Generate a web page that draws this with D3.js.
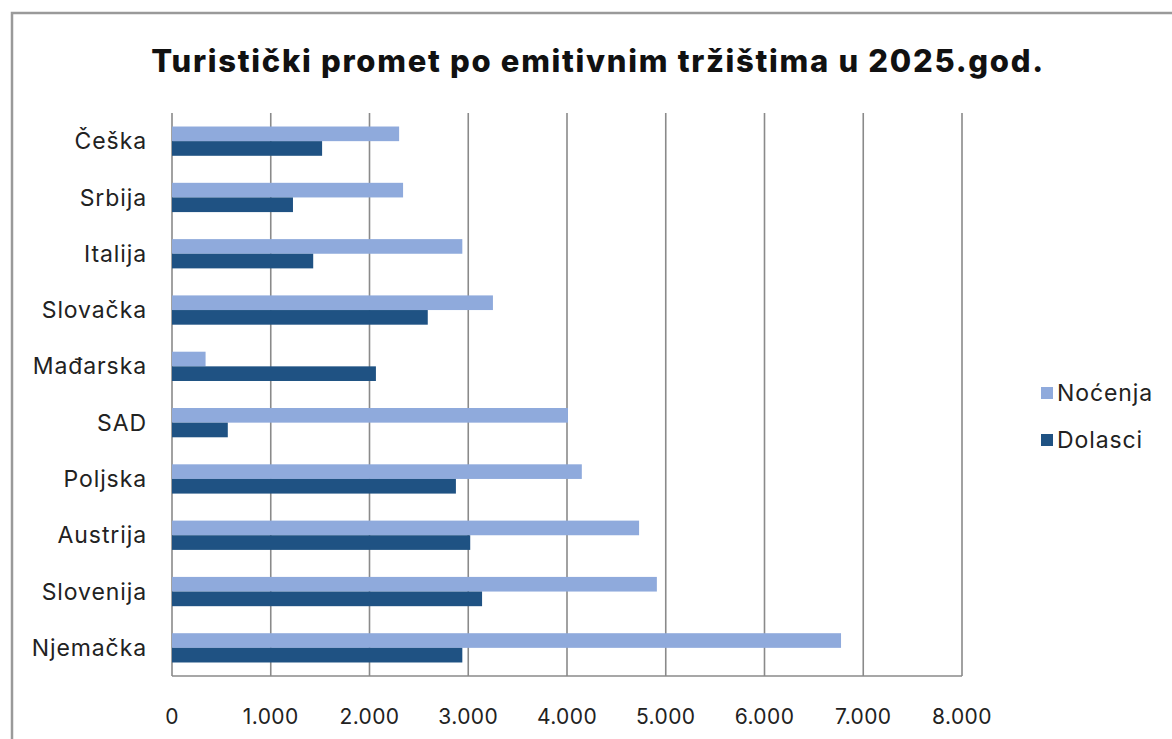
<!DOCTYPE html>
<html>
<head>
<meta charset="utf-8">
<script src="https://cdn.jsdelivr.net/npm/d3@7"></script>
<style>
  body { margin: 0; background: #fff; }
  text { font-family: Inter, "Open Sans", sans-serif; fill: #222; }
</style>
</head>
<body>
<div id="chart"></div>
<script>
// data
var countries = ["Češka", "Srbija", "Italija", "Slovačka", "Mađarska", "SAD", "Poljska", "Austrija", "Slovenija", "Njemačka"];
var nocenja = [2300, 2340, 2940, 3250, 340, 4010, 4150, 4730, 4910, 6775];
var dolasci = [1520, 1225, 1430, 2590, 2065, 565, 2875, 3020, 3140, 2940];
var seriesNames = ["Noćenja", "Dolasci"];
var seriesColors = ["#8faadc", "#1f5283"];
var ticks = [0, 1000, 2000, 3000, 4000, 5000, 6000, 7000, 8000];

var W = 1172, H = 739;
var margin = {top: 113, left: 172, right: 210, bottom: 63};
var width = 962 - margin.left,
    height = 676 - margin.top;

var svg = d3.select("#chart")
  .append("svg")
    .attr("width", W)
    .attr("height", H);

// outer frame of the chart area (scanned page)
svg.append("rect")
  .attr("x", 12).attr("y", 13)
  .attr("width", W + 20).attr("height", H + 20)
  .attr("fill", "none")
  .attr("stroke", "#9a9a9a")
  .attr("stroke-width", 2.5);

svg.append("text")
  .attr("x", 598)
  .attr("y", 72)
  .attr("text-anchor", "middle")
  .style("font-size", "31px")
  .style("font-weight", "800")
  .style("letter-spacing", "1.7px")
  .style("fill", "#111")
  .text("Turistički promet po emitivnim tržištima u 2025.god.");

var g = svg.append("g")
  .attr("transform", "translate(" + margin.left + "," + margin.top + ")");

var x = d3.scaleLinear()
  .domain([0, 8000])
  .range([0, width]);

var y = d3.scaleBand()
  .domain(countries)
  .range([0, height]);

var sub = d3.scaleBand()
  .domain(seriesNames)
  .range([y.bandwidth() * 0.24, y.bandwidth() * 0.76]);

// gridlines
g.append("g")
  .selectAll("line")
  .data(ticks)
  .enter()
  .append("line")
    .attr("x1", function(d) { return x(d); })
    .attr("x2", function(d) { return x(d); })
    .attr("y1", 0)
    .attr("y2", height)
    .attr("stroke", "#8a8a8a")
    .attr("stroke-width", 1.6);

var rows = countries.map(function(c, i) {
  return {country: c, values: [nocenja[i], dolasci[i]]};
});

var row = g.selectAll(".row")
  .data(rows)
  .enter()
  .append("g")
    .attr("transform", function(d) { return "translate(0," + y(d.country) + ")"; });

row.selectAll("rect")
  .data(function(d) { return d.values.map(function(v, j) { return {name: seriesNames[j], value: v, color: seriesColors[j]}; }); })
  .enter()
  .append("rect")
    .attr("x", x(0))
    .attr("y", function(d) { return sub(d.name); })
    .attr("width", function(d) { return x(d.value) - x(0); })
    .attr("height", sub.bandwidth())
    .attr("fill", function(d) { return d.color; });

// bottom axis line
g.append("line")
  .attr("x1", 0).attr("x2", width)
  .attr("y1", height).attr("y2", height)
  .attr("stroke", "#8a8a8a")
  .attr("stroke-width", 1.6);

// x tick labels
g.append("g")
  .selectAll("text")
  .data(ticks)
  .enter()
  .append("text")
    .attr("x", function(d) { return x(d); })
    .attr("y", height + 48)
    .attr("text-anchor", "middle")
    .style("font-size", "21px")
    .style("letter-spacing", "0.4px")
    .text(function(d) { return d3.format(",")(d).replace(/,/g, "."); });

// category labels
g.append("g")
  .selectAll("text")
  .data(countries)
  .enter()
  .append("text")
    .attr("x", -25)
    .attr("y", function(d) { return y(d) + y.bandwidth() / 2; })
    .attr("dy", "0.35em")
    .attr("text-anchor", "end")
    .style("font-size", "23px")
    .style("letter-spacing", "0.9px")
    .text(function(d) { return d; });

// legend
var legend = svg.append("g")
  .selectAll("g")
  .data(seriesNames)
  .enter()
  .append("g")
    .attr("transform", function(d, i) { return "translate(1041," + (393 + i * 47) + ")"; });

legend.append("rect")
  .attr("x", 0).attr("y", -6)
  .attr("width", 12).attr("height", 12)
  .attr("fill", function(d, i) { return seriesColors[i]; });

legend.append("text")
  .attr("x", 16)
  .attr("dy", "0.35em")
  .style("font-size", "23px")
  .style("letter-spacing", "0.9px")
  .text(function(d) { return d; });
</script>
</body>
</html>
